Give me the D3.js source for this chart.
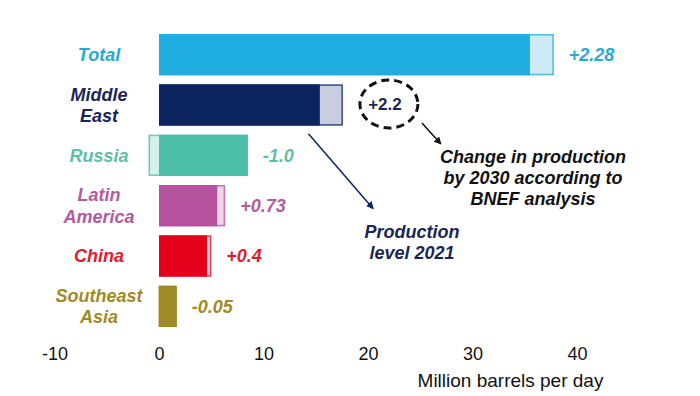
<!DOCTYPE html>
<html>
<head>
<meta charset="utf-8">
<script src="https://cdn.jsdelivr.net/npm/d3@7"></script>
<style>
  html, body { margin: 0; padding: 0; background: #fff; }
  svg { display: block; }
  text { font-family: "Liberation Sans", Arial, sans-serif; }
</style>
</head>
<body>
<svg id="chart" width="700" height="396"></svg>
<script>
// ---- data ----
const regions = ["Total", "Middle East", "Russia", "Latin America", "China", "Southeast Asia"];
const regionLines = [["Total"], ["Middle", "East"], ["Russia"], ["Latin", "America"], ["China"], ["Southeast", "Asia"]];
const production2021 = [35.5, 15.4, 8.5, 5.6, 4.6, 1.7];
const change2030 = [2.28, 2.2, -1.0, 0.73, 0.4, -0.05];
const changeLabels = ["+2.28", "", "-1.0", "+0.73", "+0.4", "-0.05"];
const barColors = ["#20aee0", "#0c2460", "#4dbfa9", "#b5529d", "#e5001c", "#a08a28"];
const paleColors = ["#cdeaf7", "#c8cde0", "#d6f0eb", "#f0d4e9", "#f8d6da", "#e8e0c0"];
const labelColors = ["#2aa9d6", "#1a2656", "#5cc0a8", "#b35aa0", "#e01a30", "#a08a28"];
const xTicks = [-10, 0, 10, 20, 30, 40];
const xTickLabels = ["-10", "0", "10", "20", "30", "40"];
const axisTitle = "Million barrels per day";
const calloutValue = "+2.2";
const calloutText = ["Change in production", "by 2030 according to", "BNEF analysis"];
const productionText = ["Production", "level 2021"];

const svg = d3.select("#chart");

const x = d3.scaleLinear().domain([-10, 40]).range([54.5, 577]);
const y = d3.scaleBand().domain(regions).range([29.5, 331.5]).paddingInner(0.18).paddingOuter(0.09);

const data = regions.map((r, i) => ({
  region: r, lines: regionLines[i], base: production2021[i], change: change2030[i],
  label: changeLabels[i], color: barColors[i], pale: paleColors[i], lc: labelColors[i]
}));

// arrow markers
const defs = svg.append("defs");
[["arrowBlack", "#111"], ["arrowNavy", "#0c2460"]].forEach(([id, c]) => {
  defs.append("marker").attr("id", id).attr("viewBox", "0 0 10 10")
    .attr("refX", 9).attr("refY", 5).attr("markerWidth", 5).attr("markerHeight", 5)
    .attr("orient", "auto")
    .append("path").attr("d", "M0,0 L10,5 L0,10 z").attr("fill", c);
});

// bars
const g = svg.append("g");
const rows = g.selectAll("g.row").data(data).enter().append("g").attr("class", "row");

// base bar
rows.append("rect")
  .attr("x", d => x(0))
  .attr("y", d => y(d.region))
  .attr("width", d => x(d.base) - x(0))
  .attr("height", y.bandwidth())
  .attr("fill", d => d.color);

// change segment
rows.append("rect")
  .attr("x", d => d.change >= 0 ? x(d.base) : x(d.change))
  .attr("y", d => y(d.region))
  .attr("width", d => Math.abs(x(d.change) - x(0)))
  .attr("height", y.bandwidth())
  .attr("fill", d => d.pale);

// outline
rows.append("rect")
  .attr("x", d => x(Math.min(0, d.change)) + 0.75)
  .attr("y", d => y(d.region) + 0.75)
  .attr("width", d => x(d.base + Math.max(0, d.change)) - x(Math.min(0, d.change)) - 1.5)
  .attr("height", y.bandwidth() - 1.5)
  .attr("fill", "none")
  .attr("stroke", d => d.color)
  .attr("stroke-opacity", 0.75)
  .attr("stroke-width", 1.5);

// category labels
const catX = 99;
rows.append("text")
  .attr("text-anchor", "middle")
  .attr("font-size", 18)
  .attr("font-weight", "bold")
  .attr("font-style", "italic")
  .attr("fill", d => d.lc)
  .each(function(d) {
    const t = d3.select(this);
    const cy = y(d.region) + y.bandwidth() / 2;
    const n = d.lines.length;
    d.lines.forEach((ln, k) => {
      t.append("tspan").attr("x", catX)
        .attr("y", cy + (k - (n - 1) / 2) * 21.5)
        .attr("dy", "0.35em").text(ln);
    });
  });

// value labels
rows.filter(d => d.label !== "").append("text")
  .attr("x", d => x(d.base + Math.max(0, d.change)) + 15)
  .attr("y", d => y(d.region) + y.bandwidth() / 2)
  .attr("dy", "0.35em")
  .attr("font-size", 18)
  .attr("font-weight", "bold")
  .attr("font-style", "italic")
  .attr("fill", d => d.lc)
  .text(d => d.label);

// x axis
const axis = d3.axisBottom(x).tickValues(xTicks).tickSize(0).tickPadding(3)
  .tickFormat((d, i) => xTickLabels[i]);
const ax = svg.append("g").attr("transform", "translate(0,344)").call(axis);
ax.select(".domain").remove();
ax.selectAll("text").attr("font-size", 18).attr("fill", "#111")
  .attr("font-family", "'Liberation Sans', Arial, sans-serif");

svg.append("text").attr("x", 510.5).attr("y", 387)
  .attr("text-anchor", "middle").attr("font-size", 19).attr("fill", "#111")
  .text(axisTitle);

// callout for Middle East change
const me = data[1];
const meCy = y(me.region) + y.bandwidth() / 2;
const meEnd = x(me.base + me.change);
const ecx = meEnd + 46, ecy = meCy - 1;
svg.append("ellipse").attr("cx", ecx).attr("cy", ecy).attr("rx", 29).attr("ry", 24)
  .attr("fill", "none").attr("stroke", "#111").attr("stroke-width", 3)
  .attr("stroke-dasharray", "8,5");
svg.append("text").attr("x", ecx - 4).attr("y", ecy).attr("dy", "0.35em")
  .attr("text-anchor", "middle").attr("font-size", 17).attr("font-weight", "bold")
  .attr("fill", "#1a2656").text(calloutValue);

svg.append("line").attr("x1", ecx + 33).attr("y1", ecy + 19)
  .attr("x2", ecx + 52).attr("y2", ecy + 40)
  .attr("stroke", "#111").attr("stroke-width", 1.5).attr("marker-end", "url(#arrowBlack)");

const ct = svg.append("text").attr("text-anchor", "middle").attr("font-size", 18)
  .attr("font-weight", "bold").attr("font-style", "italic").attr("fill", "#111");
calloutText.forEach((ln, k) => {
  ct.append("tspan").attr("x", 533).attr("y", 162.5 + k * 21.3).text(ln);
});

// production level callout
const meBottom = y(me.region) + y.bandwidth();
svg.append("line").attr("x1", x(14.3)).attr("y1", meBottom + 8)
  .attr("x2", x(20.5)).attr("y2", meBottom + 83)
  .attr("stroke", "#0c2460").attr("stroke-width", 1.5).attr("marker-end", "url(#arrowNavy)");
const pt = svg.append("text").attr("text-anchor", "middle").attr("font-size", 18)
  .attr("font-weight", "bold").attr("font-style", "italic").attr("fill", "#1a2656");
productionText.forEach((ln, k) => {
  pt.append("tspan").attr("x", 412).attr("y", 238 + k * 21).text(ln);
});
</script>
</body>
</html>
